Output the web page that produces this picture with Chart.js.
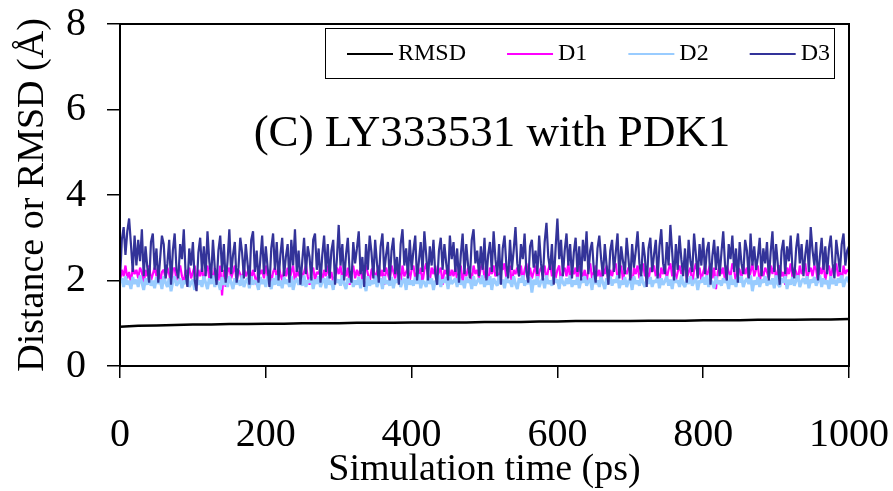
<!DOCTYPE html>
<html>
<head>
<meta charset="utf-8">
<script src="https://cdn.jsdelivr.net/npm/chart.js@4.4.1/dist/chart.umd.min.js"></script>
<style>
  html, body { margin: 0; padding: 0; background: #fff; }
  canvas { display: block; }
</style>
</head>
<body>
<canvas id="c" width="893" height="491"></canvas>
<script>
// ---------- DATA ----------
const chartTitle = "(C) LY333531 with PDK1";
const xAxisTitle = "Simulation time (ps)";
const yAxisTitle = "Distance or RMSD (Å)";
const seriesNames = ["RMSD", "D1", "D2", "D3"];
const xTicks = [0, 200, 400, 600, 800, 1000];
const yTicks = [0, 2, 4, 6, 8];
const samplePs = 2.5;    // D1/D2/D3 sampled every 2.5 ps
const rmsdSamplePs = 25; // RMSD sampled every 25 ps

const rmsd = [0.92,0.94,0.95,0.96,0.97,0.97,0.98,0.98,0.99,0.99,
  1.00,1.00,1.00,1.01,1.01,1.01,1.02,1.02,1.02,1.02,
  1.03,1.03,1.03,1.04,1.04,1.05,1.05,1.05,1.05,1.06,
  1.06,1.06,1.07,1.07,1.07,1.08,1.08,1.08,1.09,1.09,
  1.10];

const d1 = [
  2.00,2.25,2.10,2.35,2.05,2.20,1.95,2.30,2.15,2.25,
  2.05,2.30,2.20,1.90,2.25,2.10,2.35,2.00,2.15,2.30,
  2.10,2.35,1.95,2.20,2.25,2.05,2.30,2.15,1.90,2.25,
  2.30,2.00,2.20,2.35,2.10,1.95,2.25,2.15,2.30,2.05,
  2.20,2.35,1.90,2.25,2.10,2.30,2.00,2.20,2.35,2.05,
  2.25,1.95,2.30,2.15,2.00,2.35,1.65,2.25,1.85,2.20,
  2.30,2.05,2.20,2.35,1.95,2.25,2.15,2.00,2.30,2.10,
  2.20,2.35,2.00,2.25,2.10,1.90,2.30,2.15,2.25,2.05,
  2.35,2.10,2.25,1.95,2.20,2.30,2.05,2.35,2.15,2.00,
  2.25,2.10,2.30,2.00,2.20,2.35,1.95,2.25,2.10,2.30,
  2.05,2.20,2.35,2.10,1.90,2.25,2.30,2.00,2.20,2.15,
  2.30,1.95,2.25,2.10,2.35,2.05,2.20,1.95,2.10,2.30,
  2.15,2.35,2.00,2.25,2.10,2.30,1.90,2.20,2.35,2.05,
  2.25,2.10,2.30,2.00,2.20,2.35,2.15,1.95,2.25,2.30,
  2.05,2.20,2.35,2.10,2.25,1.90,2.30,2.15,2.00,2.35,
  2.20,2.05,2.30,2.25,1.95,2.35,2.10,2.20,2.30,2.00,
  2.25,2.35,2.05,2.20,2.10,2.30,1.95,2.25,2.40,2.10,
  2.00,2.30,2.15,2.35,2.05,2.20,2.30,1.90,2.25,2.15,
  2.35,2.05,2.25,2.10,2.30,2.00,2.20,2.35,1.95,2.25,
  2.10,2.30,2.20,2.00,2.35,2.15,2.25,2.05,2.30,2.40,
  2.05,2.25,1.95,2.30,2.15,2.35,2.10,2.20,2.00,2.30,
  2.25,2.40,2.05,2.20,2.35,1.90,2.25,2.15,2.30,2.10,
  2.35,2.00,2.25,2.40,2.10,2.30,2.05,2.20,2.35,1.95,
  2.20,2.30,2.15,2.35,2.00,2.25,2.40,2.10,2.30,2.05,
  2.25,2.35,1.95,2.20,2.30,2.10,2.40,2.05,2.25,2.15,
  2.30,2.00,2.35,2.20,2.10,2.25,1.90,2.30,2.40,2.05,
  2.20,2.35,2.10,2.25,2.00,2.30,2.15,2.35,1.95,2.25,
  2.10,2.30,2.40,2.05,2.20,2.35,2.00,2.25,2.15,2.30,
  2.25,1.85,2.30,2.15,2.35,2.05,2.20,2.40,2.10,2.25,
  2.00,2.30,2.20,2.35,2.10,2.25,1.95,2.30,2.15,2.35,
  2.05,2.25,2.40,2.10,2.30,2.00,2.20,2.35,2.15,2.25,
  2.35,2.05,2.20,2.30,1.90,2.25,2.40,2.10,2.30,2.00,
  2.20,2.35,2.10,2.25,2.40,2.05,2.30,1.80,2.20,2.35,
  2.15,2.30,2.00,2.35,2.20,2.10,2.40,2.25,1.95,2.30,
  2.25,2.05,2.35,2.15,2.30,2.00,2.20,2.40,2.10,2.25,
  2.35,1.95,2.25,2.10,2.30,2.20,2.05,2.35,2.15,2.40,
  2.00,2.25,2.35,2.10,2.20,1.90,2.30,2.15,2.40,2.05,
  2.30,2.20,2.00,2.35,2.15,2.25,2.40,2.05,2.20,2.30,
  2.10,2.35,2.25,1.95,2.30,2.15,2.40,2.00,2.25,2.35,
  2.05,2.30,2.20,2.40,2.10,2.25,1.95,2.35,2.15,2.25,
  2.20];

const d2 = [
  1.95,2.05,1.85,2.10,1.90,2.00,1.80,2.08,1.92,2.02,
  1.85,2.12,1.95,1.78,2.05,1.90,2.10,1.88,2.00,1.82,
  2.08,1.92,2.02,1.80,2.10,1.95,1.85,2.05,1.75,1.98,
  2.10,1.88,1.95,2.05,1.82,2.00,1.92,2.12,1.85,1.95,
  2.02,1.78,2.08,1.90,2.00,1.85,2.10,1.95,1.80,2.05,
  1.92,2.12,1.85,2.00,1.95,1.78,2.08,1.90,2.02,1.85,
  2.10,1.95,1.80,2.05,1.92,2.00,1.88,2.12,1.85,1.98,
  2.05,1.82,2.10,1.90,2.00,1.95,1.78,2.08,1.92,2.02,
  1.85,2.10,1.95,1.80,2.05,1.90,2.12,1.88,2.00,1.82,
  2.08,1.92,2.02,1.85,2.10,1.78,1.98,2.05,1.90,2.00,
  1.88,2.12,1.85,2.00,1.95,2.08,1.80,2.02,1.92,2.10,
  1.85,1.98,2.05,1.82,2.10,1.90,2.00,1.78,2.08,1.95,
  2.02,1.88,2.12,1.92,1.80,2.05,1.95,2.10,1.85,2.00,
  1.90,2.08,1.82,2.02,1.95,1.75,2.10,1.88,2.00,1.92,
  2.12,1.85,1.98,2.05,1.80,2.10,1.92,2.00,1.88,2.08,
  1.82,2.02,1.95,2.12,1.85,1.98,2.05,1.78,2.10,1.90,
  2.00,1.88,2.08,1.92,2.15,1.82,2.00,1.95,1.85,2.10,
  1.92,2.05,1.78,2.00,1.90,2.12,1.85,2.02,1.95,2.08,
  1.80,2.10,1.92,1.98,2.05,1.85,2.12,1.90,2.00,1.82,
  2.08,1.95,2.02,1.80,2.10,1.88,1.98,2.05,1.92,2.12,
  1.85,2.00,1.90,2.10,1.78,2.05,1.95,1.88,2.12,1.92,
  2.02,1.82,2.08,1.95,2.00,1.85,2.10,1.92,1.80,2.05,
  1.95,2.12,1.88,2.00,1.92,2.08,1.72,2.02,1.90,2.10,
  1.85,1.98,2.05,1.82,2.12,1.92,2.00,1.88,2.08,1.95,
  2.02,1.80,2.10,1.95,1.88,2.05,1.92,2.12,1.85,2.00,
  1.90,2.08,1.82,2.02,1.95,2.10,1.88,1.98,2.05,1.78,
  2.12,1.92,2.00,1.85,2.08,1.95,1.80,2.05,1.92,2.10,
  1.88,2.02,1.95,2.12,1.82,2.00,1.90,2.08,1.85,1.98,
  2.05,1.78,2.10,1.92,2.00,1.88,2.12,1.95,1.85,2.02,
  1.92,2.08,1.85,2.00,1.95,2.10,1.82,2.05,1.90,1.98,
  2.10,1.88,2.02,1.80,2.08,1.95,2.00,1.85,2.12,1.92,
  1.85,2.05,1.92,2.10,1.88,1.98,2.05,1.78,2.00,1.95,
  2.08,1.90,2.12,1.85,2.02,1.95,1.82,2.10,1.92,2.00,
  1.88,2.05,1.95,2.00,1.80,2.12,1.90,2.02,1.85,2.08,
  1.95,2.10,1.85,1.98,2.05,1.92,2.12,1.75,2.00,1.90,
  2.08,1.85,2.02,1.95,2.10,1.88,2.00,1.92,2.05,1.82,
  2.12,1.92,1.85,2.05,1.95,2.10,1.80,2.02,1.90,2.08,
  1.88,2.00,2.12,1.85,1.98,2.05,1.92,2.10,1.82,2.02,
  1.95,2.08,1.88,2.00,2.12,1.85,2.05,1.92,2.00,1.80,
  2.10,1.92,2.02,1.88,2.05,1.95,2.12,1.85,2.00,2.08,
  1.95];

const d3 = [
  2.00,2.95,3.25,2.60,3.15,3.45,2.85,2.20,3.05,2.35,
  2.95,2.45,3.20,2.10,2.80,2.30,1.95,2.90,3.10,2.25,
  2.75,1.95,2.50,3.05,2.85,2.05,2.40,2.95,1.90,2.70,
  3.10,2.25,2.05,2.85,2.50,3.20,2.15,1.85,2.75,2.35,
  2.90,2.00,1.75,2.65,3.00,2.20,2.80,2.10,3.15,2.45,
  2.05,2.95,2.30,1.90,2.70,3.05,2.20,2.85,1.95,2.45,
  3.20,2.15,2.60,2.90,1.95,2.30,3.00,2.65,2.05,2.85,
  2.40,1.90,2.95,3.15,2.20,2.70,1.95,2.50,3.05,2.15,
  2.80,2.30,1.85,2.75,3.10,2.25,2.90,2.00,2.60,3.00,
  2.10,2.55,2.85,1.95,2.95,2.35,3.20,2.20,2.70,1.90,
  2.45,3.00,2.15,2.80,2.55,2.00,2.95,3.10,2.25,2.75,
  1.95,2.60,3.05,2.20,2.85,2.05,2.70,2.95,1.90,2.50,
  3.30,2.35,2.85,2.00,2.60,3.00,2.20,1.95,2.90,2.40,
  2.75,3.15,2.15,2.55,1.85,2.85,2.25,3.05,2.65,2.05,
  2.95,2.40,1.95,2.80,3.10,2.20,2.60,2.90,2.00,2.70,
  3.00,2.15,2.55,1.90,2.85,3.20,2.35,2.75,2.05,2.95,
  2.25,2.70,3.05,2.00,2.45,2.90,2.20,3.15,2.60,2.00,
  2.80,2.35,2.95,2.15,1.90,2.70,3.00,2.25,2.85,2.40,
  2.00,3.05,2.50,2.90,2.20,2.75,1.95,2.60,3.10,2.15,
  2.85,2.35,2.05,2.95,3.20,2.40,2.70,2.10,2.80,2.25,
  3.00,2.00,2.60,2.90,2.20,3.15,2.50,2.10,2.85,1.90,
  2.75,3.05,2.35,2.05,2.95,2.25,2.70,3.25,2.40,2.10,
  2.85,2.50,3.10,2.20,1.95,2.80,2.95,2.30,2.70,2.15,
  3.05,2.40,2.00,2.90,3.35,2.55,2.25,2.85,1.90,2.75,
  3.45,2.50,2.95,2.10,2.70,3.10,2.35,2.85,2.05,2.65,
  3.00,2.20,2.80,2.00,2.95,2.45,3.15,2.15,2.70,2.90,
  2.25,1.95,2.75,3.05,2.50,2.10,2.85,2.35,1.90,2.70,
  2.95,2.20,2.65,3.10,2.05,2.80,2.45,2.15,3.00,2.50,
  2.00,2.85,2.30,2.70,3.15,2.40,2.10,2.90,2.55,1.85,
  2.75,3.00,2.20,2.60,2.95,2.05,2.80,3.20,2.40,2.15,
  2.90,2.35,3.30,2.65,2.00,2.85,2.25,3.05,2.50,2.10,
  2.75,1.95,2.95,2.45,2.20,3.10,2.60,2.05,2.85,2.35,
  3.00,2.15,2.70,2.90,1.90,2.55,2.95,2.25,2.80,2.10,
  2.65,3.15,2.35,2.00,2.85,2.50,3.05,2.20,2.75,1.95,
  2.90,2.40,2.15,2.95,2.70,2.05,3.10,2.35,2.80,2.25,
  2.55,3.00,2.10,2.75,2.40,2.90,2.00,2.65,3.15,2.20,
  2.85,2.35,1.90,2.70,2.95,2.15,2.80,2.45,3.05,2.25,
  2.05,2.75,3.10,2.40,2.85,2.10,2.60,2.95,2.20,3.25,
  2.70,2.35,2.90,2.00,2.55,3.00,2.25,2.80,2.15,2.75,
  3.05,2.40,2.05,2.95,2.60,2.20,2.85,3.10,2.35,2.70,
  2.80];

// ---------- BUILD ----------
const toPoints = (vals, step) => vals.map((v, i) => ({ x: i * step, y: v }));
const FONT = "'Liberation Serif', 'Times New Roman', serif";

const datasets = [
  { label: seriesNames[0], data: toPoints(rmsd, rmsdSamplePs), borderColor: '#000000', borderWidth: 2.5, order: 3 },
  { label: seriesNames[1], data: toPoints(d1, samplePs), borderColor: '#FF00FF', borderWidth: 2.2, order: 2 },
  { label: seriesNames[2], data: toPoints(d2, samplePs), borderColor: '#99CCFF', borderWidth: 3, order: 1 },
  { label: seriesNames[3], data: toPoints(d3, samplePs), borderColor: '#333399', borderWidth: 2.2, order: 0 }
].map(d => Object.assign(d, { pointRadius: 0, tension: 0, fill: false, borderJoinStyle: 'bevel' }));

const overlay = {
  id: 'overlay',
  afterDraw(chart) {
    const { ctx, chartArea: a } = chart;
    ctx.save();
    // plot frame
    ctx.strokeStyle = '#000';
    ctx.lineWidth = 2;
    ctx.strokeRect(a.left, a.top, a.right - a.left, a.bottom - a.top);
    // title inside plot
    ctx.fillStyle = '#000';
    ctx.font = "45px " + FONT;
    ctx.textAlign = 'center';
    ctx.textBaseline = 'alphabetic';
    ctx.fillText(chartTitle, 492, 146);
    // legend box
    const bx = 325, by = 28, bw = 509, bh = 50;
    ctx.fillStyle = '#fff';
    ctx.fillRect(bx, by, bw, bh);
    ctx.lineWidth = 1;
    ctx.strokeStyle = '#000';
    ctx.strokeRect(bx + 0.5, by + 0.5, bw, bh);
    ctx.font = "24px " + FONT;
    ctx.textAlign = 'left';
    ctx.textBaseline = 'middle';
    let x = 347;
    const cy = by + bh / 2 + 1;
    chart.data.datasets.forEach(ds => {
      ctx.strokeStyle = ds.borderColor;
      ctx.lineWidth = 2;
      ctx.beginPath();
      ctx.moveTo(x, cy);
      ctx.lineTo(x + 46, cy);
      ctx.stroke();
      ctx.fillStyle = '#000';
      ctx.fillText(ds.label, x + 51, cy);
      x += 51 + ctx.measureText(ds.label).width + 41;
    });
    ctx.restore();
  }
};

new Chart(document.getElementById('c'), {
  type: 'line',
  data: { datasets },
  options: {
    responsive: false,
    animation: false,
    devicePixelRatio: 1,
    layout: { padding: 0 },
    plugins: { legend: { display: false }, tooltip: { enabled: false } },
    scales: {
      x: {
        type: 'linear', min: xTicks[0], max: xTicks[xTicks.length - 1],
        afterBuildTicks: s => { s.ticks = xTicks.map(v => ({ value: v })); },
        afterFit: s => { s.height = 125; s.paddingLeft = 0; s.paddingRight = 44; },
        ticks: { font: { family: FONT, size: 40 }, color: '#000', padding: 33, maxRotation: 0, callback: v => String(v) },
        grid: { drawOnChartArea: false, drawTicks: true, tickLength: 12, color: '#000', lineWidth: 1.5 },
        border: { display: true, color: '#000', width: 2 },
        title: { display: true, text: xAxisTitle, color: '#000', font: { family: FONT, size: 38 }, padding: { top: 0, bottom: -2 } }
      },
      y: {
        type: 'linear', min: yTicks[0], max: yTicks[yTicks.length - 1],
        afterBuildTicks: s => { s.ticks = yTicks.map(v => ({ value: v })); },
        afterFit: s => { s.width = 120; s.paddingTop = 24; s.paddingBottom = 0; },
        ticks: { font: { family: FONT, size: 40 }, color: '#000', padding: 21 },
        grid: { drawOnChartArea: false, drawTicks: true, tickLength: 13, color: '#000', lineWidth: 1.5 },
        border: { display: true, color: '#000', width: 2 },
        title: { display: true, text: yAxisTitle, color: '#000', font: { family: FONT, size: 38 }, padding: { top: 10, bottom: 0 } }
      }
    }
  },
  plugins: [overlay]
});
</script>
</body>
</html>
